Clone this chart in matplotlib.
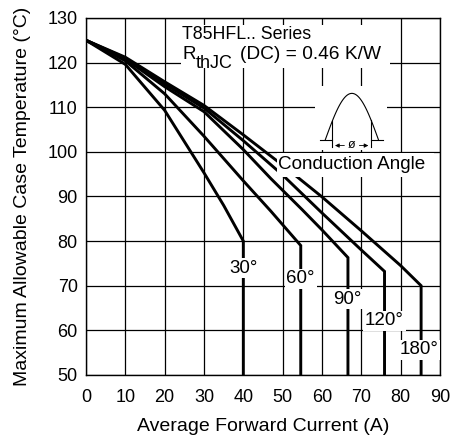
import numpy as np
import matplotlib.pyplot as plt
from matplotlib.patches import Rectangle

plt.rcParams['font.family'] = ['Liberation Sans', 'DejaVu Sans']

# curves: average forward current (A) vs max case temperature (C)
current_30 = [0, 10, 20, 30, 35, 40, 40]
temp_30 = [125, 119.6, 109.3, 95.3, 88, 80, 50]

current_60 = [0, 10, 20, 30, 40, 47, 54.6, 54.6]
temp_60 = [125, 120.4, 113, 103.5, 93.5, 86.7, 79, 50]

current_90 = [0, 10, 20, 30, 40, 47, 55, 60, 66.6, 66.6]
temp_90 = [125, 120.8, 114.6, 109, 100.5, 94, 87, 82.5, 76.3, 50]

current_120 = [0, 10, 20, 30, 40, 50, 60, 70, 75.9, 75.9]
temp_120 = [125, 121, 115.2, 109.8, 102.5, 94.8, 86.3, 78, 73.2, 50]

current_180 = [0, 10, 20, 30, 40, 50, 60, 70, 80, 85.2, 85.2]
temp_180 = [125, 121.2, 115.7, 110.4, 103.8, 97, 89.9, 82.3, 74.5, 70, 50]

curves = [(current_30, temp_30), (current_60, temp_60), (current_90, temp_90),
          (current_120, temp_120), (current_180, temp_180)]

angle_labels = ["30°", "60°", "90°", "120°", "180°"]
label_x = [40, 54.6, 66.4, 75.9, 84.7]
label_y = [73.9, 71.5, 67, 62.1, 55.6]

fig = plt.figure(figsize=(4.55, 4.38), dpi=100)
ax = fig.add_axes([0.189, 0.144, 0.778, 0.815])

ax.set_xlim(0, 90)
ax.set_ylim(50, 130)
ax.set_xticks(range(0, 91, 10))
ax.set_yticks(range(50, 131, 10))
ax.tick_params(axis='x', length=0, labelsize=13, pad=10)
ax.tick_params(axis='y', length=0, labelsize=13, pad=6)
ax.grid(True, color='black', linewidth=0.9, zorder=0)
ax.set_axisbelow(True)
for s in ax.spines.values():
    s.set_linewidth(1.0)

for x, y in curves:
    ax.plot(x, y, color='black', linewidth=2.1, zorder=3, solid_joinstyle='miter')

# white boxes hiding grid behind texts / icon
ax.add_patch(Rectangle((24.2, 118.8), 53.2, 9.6, facecolor='white', edgecolor='none', zorder=1))
ax.add_patch(Rectangle((58.3, 100.4), 18.3, 14.4, facecolor='white', edgecolor='none', zorder=1))
ax.add_patch(Rectangle((48.6, 94.4), 39.8, 5.4, facecolor='white', edgecolor='none', zorder=4))

ax.text(24.5, 126.4, "T85HFL.. Series", fontsize=12.8, va='center', ha='left', zorder=5)
ax.text(24.5, 121.8, "R", fontsize=13.5, va='center', ha='left', zorder=5)
ax.text(28.0, 119.8, "thJC", fontsize=13, va='center', ha='left', zorder=5)
ax.text(39.2, 121.9, "(DC) = 0.46 K/W", fontsize=13.8, va='center', ha='left', zorder=5)

ax.text(48.8, 97.2, "Conduction Angle", fontsize=13.6, va='center', ha='left', zorder=5)

for lab, lx, ly in zip(angle_labels, label_x, label_y):
    ax.text(lx, ly, lab, fontsize=13.5, ha='center', va='center', zorder=5,
            bbox=dict(facecolor='white', edgecolor='none', pad=1.2))

# conduction angle icon
t = np.linspace(0, np.pi, 60)
ix = 60.8 + (74.4 - 60.8) * t / np.pi
iy = 102.6 + 10.5 * np.sin(t)
ax.plot(ix, iy, color='black', linewidth=0.8, zorder=2)
cut_l, cut_r = 62.6, 72.5
yl = 102.6 + 10.5 * np.sin(np.pi * (cut_l - 60.8) / (74.4 - 60.8))
yr = 102.6 + 10.5 * np.sin(np.pi * (cut_r - 60.8) / (74.4 - 60.8))
ax.plot([cut_l, cut_l], [yl, 101.0], color='black', linewidth=0.8, zorder=2)
ax.plot([cut_r, cut_r], [yr, 101.0], color='black', linewidth=0.8, zorder=2)
ax.plot([59.5, cut_l], [102.6, 102.6], color='black', linewidth=0.8, zorder=2)
ax.plot([cut_r, 75.6], [102.6, 102.6], color='black', linewidth=0.8, zorder=2)
ax.annotate("", xy=(cut_l, 101.4), xytext=(66.4, 101.4),
            arrowprops=dict(arrowstyle='-|>', color='black', lw=0.6, mutation_scale=6), zorder=2)
ax.annotate("", xy=(cut_r, 101.4), xytext=(68.8, 101.4),
            arrowprops=dict(arrowstyle='-|>', color='black', lw=0.6, mutation_scale=6), zorder=2)
ax.text(67.6, 101.5, "ø", fontsize=9, ha='center', va='center', zorder=2)

ax.set_xlabel("Average Forward Current (A)", fontsize=14, labelpad=9)
ax.set_ylabel("Maximum Allowable Case Temperature (°C)", fontsize=14, labelpad=12)

fig.savefig("out.png", dpi=100)
